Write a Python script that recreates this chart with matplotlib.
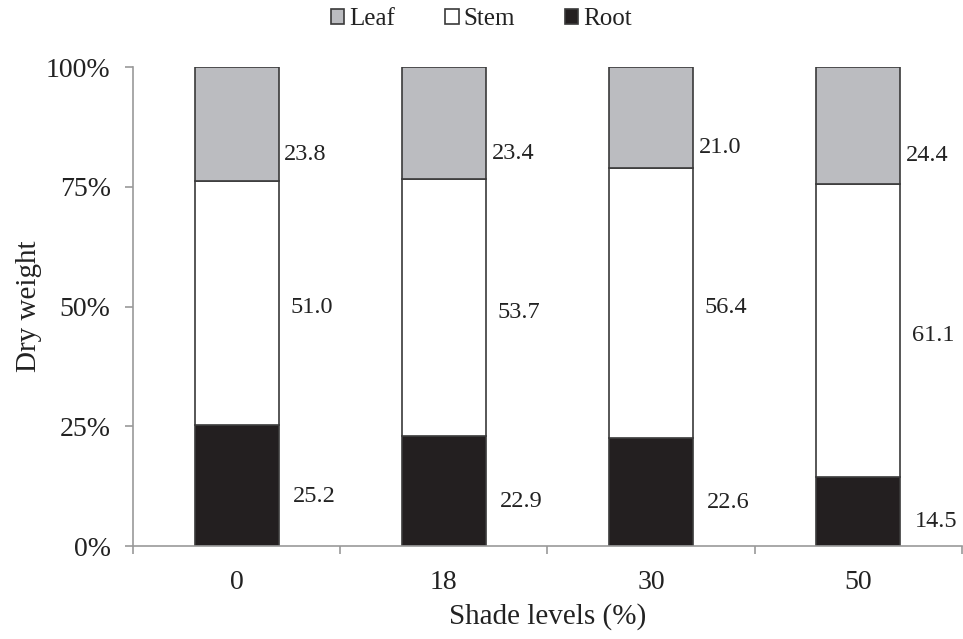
import matplotlib
matplotlib.use("Agg")
import matplotlib.pyplot as plt
import numpy as np

plt.rcParams["font.family"] = ["Liberation Serif", "DejaVu Serif"]

shade = ["0", "18", "30", "50"]
root = [25.2, 22.9, 22.6, 14.5]
stem = [51.0, 53.7, 56.4, 61.1]
leaf = [23.8, 23.4, 21.0, 24.4]

series = [("Root", root, "#231f20"), ("Stem", stem, "white"), ("Leaf", leaf, "#bbbcc0")]
# per-series nudge of the value labels (dy in axis units, dx in category units)
nudge = {"Root": (-0.022, 0.068), "Stem": (-0.01, 0.056), "Leaf": (-0.063, 0.027)}

fig = plt.figure(figsize=(9.63, 6.39), dpi=100)
ax = fig.add_axes([0.138, 0.1455, 0.861, 0.7495])

x = np.arange(len(shade))
w = 0.405
bottom = np.zeros(len(shade))
handles = {}
for name, vals, col in series:
    frac = np.array(vals) / 100.0
    b = ax.bar(x, frac, w, bottom=bottom, color=col, edgecolor="#3a3a3a", linewidth=1.2, label=name)
    handles[name] = b
    dy, dx = nudge[name]
    for xi, bi, fi, v in zip(x, bottom, frac, vals):
        ax.text(xi + w / 2 + dx, bi + fi / 2 + dy, f"{v:.1f}", ha="left", va="center",
                fontsize=17.5, color="#222222")
    bottom = bottom + frac

ax.set_xlim(-0.5, len(shade) - 0.5)
ax.set_ylim(0, 1)
ax.set_yticks([0, 0.25, 0.5, 0.75, 1.0])
ax.set_yticklabels(["0%", "25%", "50%", "75%", "100%"], fontsize=20, color="#222222")
ax.set_xticks(x)
ax.set_xticklabels(shade, fontsize=20, color="#222222")
ax.set_xticks(np.arange(len(shade) + 1) - 0.5, minor=True)
ax.tick_params(axis="x", which="major", length=0, pad=17)
ax.tick_params(axis="x", which="minor", length=6, color="#999999", direction="out", width=1.2)
ax.tick_params(axis="y", length=6, color="#999999", pad=10, width=1.2)

for s in ["top", "right"]:
    ax.spines[s].set_visible(False)
for s in ["left", "bottom"]:
    ax.spines[s].set_color("#999999")
    ax.spines[s].set_linewidth(1.2)

ax.set_ylabel("Dry weight", fontsize=21, labelpad=3, color="#222222")
ax.set_xlabel("Shade levels (%)", fontsize=21, labelpad=6, color="#222222")

leg = fig.legend([handles["Leaf"], handles["Stem"], handles["Root"]], ["Leaf", "Stem", "Root"],
                 loc="center", bbox_to_anchor=(0.4995, 0.970), ncol=3, frameon=False,
                 fontsize=18, handlelength=0.55, handleheight=0.55, handletextpad=0.18,
                 columnspacing=2.0)
for t in leg.get_texts():
    t.set_color("#222222")

fig.savefig("out.png", dpi=100)
